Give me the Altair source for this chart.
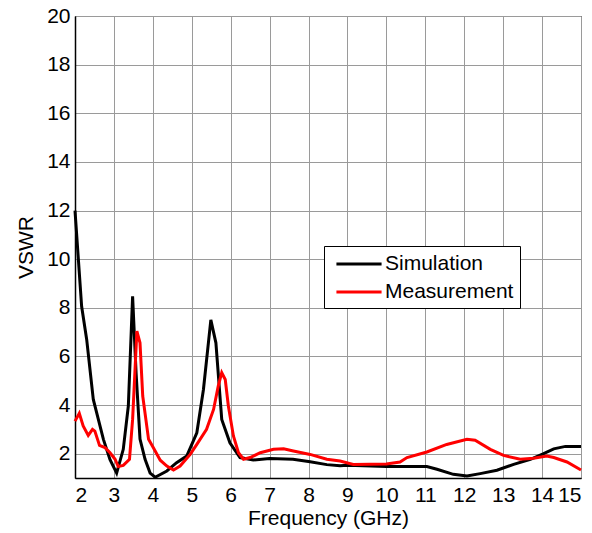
import altair as alt
import pandas as pd

# Simulation (black)
sim_f = [2.0, 2.17, 2.3, 2.47, 2.73, 2.9, 3.07, 3.24, 3.37, 3.48, 3.57, 3.67, 3.8, 3.93, 4.06,
         4.36, 4.61, 4.87, 5.13, 5.3, 5.49, 5.62, 5.77, 5.98, 6.24, 6.58, 7.0, 7.6, 8.04, 8.47,
         8.81, 9.0, 10.0, 11.04, 11.3, 11.72, 12.07, 12.41, 12.84, 13.27, 13.7, 14.04, 14.3,
         14.6, 15.0]
sim_v = [12.0, 8.06, 6.7, 4.23, 2.59, 1.75, 1.2, 2.18, 3.96, 8.47, 5.3, 2.6, 1.77, 1.2, 1.03,
         1.29, 1.63, 1.9, 2.86, 4.64, 7.5, 6.56, 3.41, 2.45, 1.84, 1.74, 1.8, 1.77, 1.67, 1.55,
         1.5, 1.52, 1.47, 1.47, 1.36, 1.15, 1.08, 1.18, 1.32, 1.56, 1.77, 2.0, 2.2,
         2.3, 2.3]

# Measurement (red)
meas_f = [2.0, 2.11, 2.21, 2.34, 2.45, 2.51, 2.63, 2.77, 2.9, 3.03, 3.11, 3.24, 3.4, 3.48,
          3.59, 3.67, 3.74, 3.89, 4.01, 4.19, 4.36, 4.53, 4.7, 4.96, 5.13, 5.38, 5.56, 5.68,
          5.77, 5.86, 5.94, 6.07, 6.2, 6.33, 6.5, 6.76, 7.1, 7.36, 7.61, 8.04, 8.47, 8.81,
          9.15, 10.0, 10.35, 10.53, 11.04, 11.55, 12.07, 12.28, 12.67, 13.01, 13.44, 13.78,
          14.12, 14.3, 14.64, 15.0]
meas_v = [3.34, 3.66, 3.14, 2.75, 3.0, 2.93, 2.34, 2.25, 2.04, 1.77, 1.47, 1.52, 1.77, 3.41,
          7.04, 6.56, 4.37, 2.59, 2.25, 1.73, 1.49, 1.33, 1.49, 1.97, 2.38, 3.0, 3.82, 4.78,
          5.33, 5.05, 3.96, 2.73, 2.04, 1.77, 1.84, 2.04, 2.18, 2.2, 2.11, 1.97, 1.77, 1.7,
          1.56, 1.58, 1.66, 1.84, 2.07, 2.38, 2.59, 2.55, 2.18, 1.93, 1.77, 1.81,
          1.9, 1.84, 1.66, 1.33]

series = ["Simulation", "Measurement"]
colors = ["#000000", "#ff0000"]
x_ticks = list(range(2, 16))
y_ticks = list(range(2, 21, 2))

sim_df = pd.DataFrame({"f": sim_f, "v": sim_v, "s": series[0]})
meas_df = pd.DataFrame({"f": meas_f, "v": meas_v, "s": series[1]})

FONT = "Liberation Sans"
FS = 21

x_enc = alt.X("f:Q", scale=alt.Scale(domain=[2, 15], nice=False),
              axis=alt.Axis(values=x_ticks, title="Frequency (GHz)", format="d"))
y_enc = alt.Y("v:Q", scale=alt.Scale(domain=[1, 20], nice=False, zero=False),
              axis=alt.Axis(values=y_ticks, title="VSWR", format="d"))
c_enc = alt.Color("s:N", scale=alt.Scale(domain=series, range=colors),
                  legend=alt.Legend(title=None, orient="none", legendX=249, legendY=230,
                                    symbolType="M-2.15,0H2.15", symbolSize=441,
                                    symbolOffset=17,
                                    symbolStrokeWidth=3, labelFontSize=FS, labelFont=FONT,
                                    labelColor="#000000", strokeColor="#000000",
                                    fillColor="#ffffff", padding=6, rowPadding=6,
                                    labelOffset=14, labelLimit=300))

sim_line = alt.Chart(sim_df).mark_line(strokeWidth=3).encode(x=x_enc, y=y_enc, color=c_enc)
meas_line = alt.Chart(meas_df).mark_line(strokeWidth=3).encode(x=x_enc, y=y_enc, color=c_enc)

chart = alt.layer(sim_line, meas_line).properties(
    width=506, height=462,
    autosize=alt.AutoSizeParams(type="none"),
    padding={"left": 67, "top": 8, "right": 3, "bottom": 55},
).configure_view(
    stroke="#000000", strokeWidth=1
).configure_axis(
    labelFont=FONT, titleFont=FONT, labelFontSize=FS, titleFontSize=FS,
    labelColor="#000000", titleColor="#000000", titleFontWeight="normal",
    domainColor="#000000", domainWidth=1.5, tickSize=0,
    grid=True, gridColor="#9a9a9a", gridWidth=1, gridOpacity=1,
).configure_axisX(
    labelPadding=6, titlePadding=2
).configure_axisY(
    labelPadding=5, titlePadding=10
)

chart.save("out.html", embed_options={"renderer": "svg", "actions": False})
